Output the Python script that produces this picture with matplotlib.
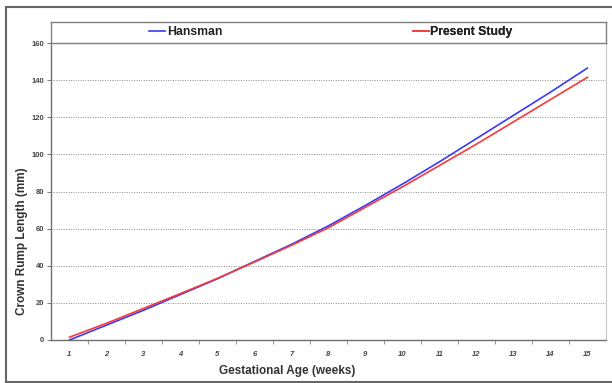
import matplotlib.pyplot as plt
from matplotlib.lines import Line2D

plt.rcParams["font.family"] = ["Liberation Sans", "DejaVu Sans"]

weeks = list(range(1, 16))
hansman = [0, 8, 16, 24.5, 33, 42.3, 51.5, 61.5, 72.5, 84, 96, 108.5, 121, 133.5, 146.5]
present_study = [1.5, 9, 17, 25, 33.2, 42, 51, 60.5, 71.5, 82.5, 94, 105.5, 117.5, 129.5, 141.5]
y_ticks = [0, 20, 40, 60, 80, 100, 120, 140, 160]

blue = "#3a3af5"
red = "#f53a3a"
edge = "#808080"

fig = plt.figure(figsize=(6.12, 3.83), dpi=100)
ax = fig.add_axes([0.0833, 0.1123, 0.9067, 0.7754])

ax.plot(weeks, hansman, color=blue, lw=1.2, zorder=3)
ax.plot(weeks, present_study, color=red, lw=1.2, zorder=3)

ax.set_xlim(0.5, 15.5)
ax.set_ylim(0, 160)
ax.set_yticks(y_ticks)
ax.set_yticklabels([str(v) for v in y_ticks], fontsize=5.5, color="#444444",
                   fontweight="bold")
ax.set_xticks(weeks)
ax.set_xticklabels([str(w) for w in weeks], fontsize=5.5, style="italic",
                   fontweight="bold", color="#444444")
ax.set_xticks([w + 0.5 for w in weeks[:-1]], minor=True)
ax.tick_params(axis="x", which="major", length=0, pad=8)
ax.tick_params(axis="x", which="minor", length=3, color=edge, direction="out")
ax.tick_params(axis="y", length=3, color=edge, pad=2)
ax.grid(axis="y", linestyle=(0, (1, 1.5)), color="#8a8a8a", lw=0.7)
for s in ["left", "bottom"]:
    ax.spines[s].set_color("#707070")
    ax.spines[s].set_linewidth(1.0)
for s in ["right", "top"]:
    ax.spines[s].set_color("#c8c8c8")
    ax.spines[s].set_linewidth(0.8)

ax.set_ylabel("Crown Rump Length (mm)", fontsize=8.5, fontweight="bold",
              color="#333333")
ax.yaxis.set_label_coords(-0.042, 0.333)
ax.set_xlabel("Gestational Age (weeks)", fontsize=8.5, fontweight="bold",
              color="#333333")
ax.xaxis.set_label_coords(0.425, -0.085)

# legend strip above the plot
lax = fig.add_axes([0.0833, 0.8877, 0.9067, 0.0549])
lax.set_xticks([])
lax.set_yticks([])
for s in lax.spines.values():
    s.set_color(edge)
    s.set_linewidth(1.0)
for label, color, cx in [("Hansman", blue, 0.243), ("Present Study", red, 0.742)]:
    h = Line2D([], [], color=color, lw=1.2)
    leg = lax.legend(handles=[h], labels=[label], loc="center",
                     bbox_to_anchor=(cx, 0.5), frameon=False, handlelength=1.3,
                     handletextpad=0.15, prop={"size": 8.8, "weight": "bold"},
                     borderaxespad=0, borderpad=0)
    for t in leg.get_texts():
        t.set_color("#222222")
    lax.add_artist(leg)

# outer frame
for xs, ys in [([0.010, 0.010], [0.003, 0.982]),
               ([0.010, 1.0], [0.982, 0.982]),
               ([0.010, 1.0], [0.003, 0.003])]:
    fig.add_artist(Line2D(xs, ys, color="#666666", lw=1.5,
                          transform=fig.transFigure))

fig.savefig("out.png", dpi=100)
